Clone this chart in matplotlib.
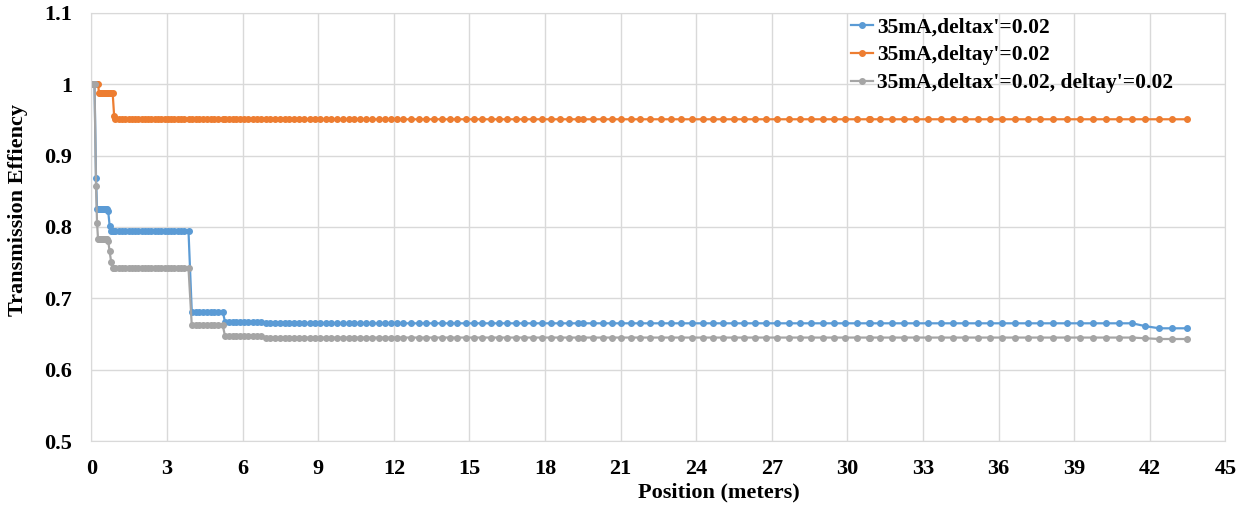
import matplotlib
matplotlib.use("Agg")
import matplotlib.pyplot as plt
from matplotlib.ticker import MultipleLocator, FuncFormatter

# positions (m) of the output points along the line
position = [
    0.0, 0.04, 0.08, 0.12, 0.18, 0.22, 0.26, 0.3, 0.34, 0.38, 0.42, 0.46, 0.5, 0.54, 0.58, 0.62,
    0.66, 0.72, 0.78, 0.84, 0.9,
    0.95, 1.08, 1.21, 1.34, 1.47, 1.6, 1.73, 1.86, 1.99, 2.12, 2.25, 2.38, 2.51, 2.64, 2.77,
    2.9, 3.03, 3.16, 3.29, 3.42, 3.55, 3.68, 3.85, 3.98, 4.13, 4.28, 4.43, 4.58, 4.73, 4.88,
    5.03, 5.21, 5.3, 5.45, 5.6, 5.75, 5.91, 6.07, 6.23, 6.4, 6.57, 6.74, 6.92, 7.1, 7.28,
    7.47, 7.66, 7.85, 8.05, 8.25, 8.45, 8.66, 8.87, 9.08, 9.3, 9.52, 9.74, 9.97, 10.2, 10.43,
    10.67, 10.91, 11.15, 11.4, 11.65, 11.9, 12.12, 12.37, 12.68, 12.98, 13.28, 13.59, 13.89,
    14.21, 14.52, 14.85, 15.18, 15.51, 15.84, 16.17, 16.5, 16.83, 17.17, 17.52, 17.88, 18.23,
    18.59, 18.95, 19.32, 19.49, 19.91, 20.28, 20.65, 21.02, 21.41, 21.76, 22.17, 22.58, 22.99,
    23.41, 23.83, 24.25, 24.65, 25.06, 25.48, 25.9, 26.34, 26.78, 27.21, 27.66, 28.11, 28.56,
    29.01, 29.46, 29.91, 30.36, 30.85, 30.9, 31.29, 31.78, 32.24, 32.72, 33.21, 33.7, 34.19,
    34.68, 35.16, 35.64, 36.12, 36.64, 37.15, 37.65, 38.17, 38.7, 39.21, 39.74, 40.25, 40.77,
    41.3, 41.82, 42.37, 42.89, 43.46,
]

# transmission levels: (position where the level starts, level)
steps_x = [(0.0, 1.0), (0.18, 0.869), (0.22, 0.825), (0.66, 0.823), (0.72, 0.802),
           (0.78, 0.794), (3.98, 0.681), (5.3, 0.667), (6.92, 0.665), (41.82, 0.661),
           (42.37, 0.658)]
steps_y = [(0.0, 1.0), (0.3, 0.988), (0.9, 0.955), (0.95, 0.951)]
steps_xy = [(0.0, 1.0), (0.18, 0.858), (0.22, 0.806), (0.26, 0.783), (0.66, 0.781),
            (0.72, 0.766), (0.78, 0.751), (0.84, 0.742), (3.98, 0.662), (5.3, 0.647),
            (6.92, 0.645), (41.82, 0.644), (42.37, 0.643)]

labels = ["35mA,deltax'=0.02", "35mA,deltay'=0.02", "35mA,deltax'=0.02, deltay'=0.02"]
colors = ["#5B9BD5", "#ED7D31", "#A5A5A5"]


def level_at(steps, p):
    v = steps[0][1]
    for s, lv in steps:
        if p >= s - 1e-9:
            v = lv
    return v


plt.rcParams["font.family"] = ["Liberation Serif", "DejaVu Serif"]
plt.rcParams["font.weight"] = "bold"

fig = plt.figure(figsize=(12.38, 5.05), dpi=100)
ax = fig.add_axes([0.0739, 0.1267, 0.9160, 0.8476])

for steps, lab, c in zip([steps_x, steps_y, steps_xy], labels, colors):
    vals = [level_at(steps, p) for p in position]
    ax.plot(position, vals, color=c, lw=1.6, marker="o", ms=4, label=lab)

ax.set_xlim(0, 45)
ax.set_ylim(0.5, 1.1)
ax.xaxis.set_major_locator(MultipleLocator(3))
ax.yaxis.set_major_locator(MultipleLocator(0.1))
ax.yaxis.set_major_formatter(FuncFormatter(lambda v, _: "%g" % round(v, 2)))
ax.grid(True, color="#D9D9D9", lw=1)
ax.set_axisbelow(True)
for s in ax.spines.values():
    s.set_color("#D9D9D9")
ax.tick_params(length=0, labelsize=16)
ax.tick_params(axis="x", pad=13)
ax.tick_params(axis="y", pad=14)
for t in ax.get_xticklabels() + ax.get_yticklabels():
    t.set_fontweight("bold")

fig.text(719 / 1238, 1 - 492 / 505, "Position (meters)", fontsize=16, fontweight="bold",
         ha="center", va="center")
fig.text(18 / 1238, 1 - 210 / 505, "Transmission Effiency", fontsize=16, fontweight="bold",
         ha="center", va="center", rotation=90)

ax.legend(loc="upper left", bbox_to_anchor=(0.6698, 0.99), frameon=False,
          prop={"size": 15.5, "weight": "bold"}, handlelength=1.0, handletextpad=0.2,
          labelspacing=0.37, borderaxespad=0, borderpad=0)

fig.savefig("out.png", dpi=100)
